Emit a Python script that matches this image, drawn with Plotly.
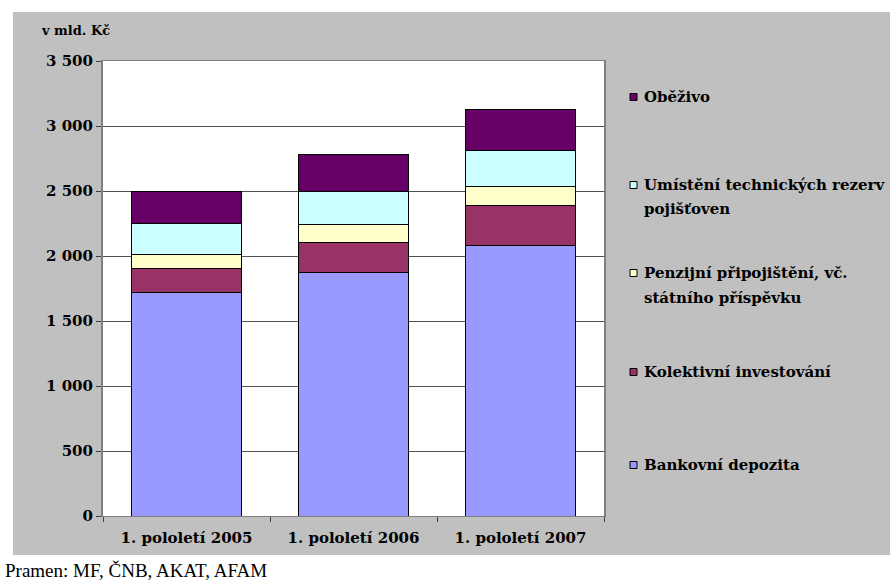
import plotly.graph_objects as go

# Financial assets of households, billions CZK
periods = ["1. pololetí 2005", "1. pololetí 2006", "1. pololetí 2007"]

bankovni_depozita = [1717, 1871, 2083]
kolektivni_investovani = [187, 235, 308]
penzijni_pripojisteni = [105, 136, 141]
umisteni_rezerv = [241, 256, 280]
obezivo = [250, 283, 315]

series_names = [
    "Bankovní depozita",
    "Kolektivní investování",
    "Penzijní připojištění, vč. státního příspěvku",
    "Umístění technických rezerv pojišťoven",
    "Oběživo",
]
# legend label lines for each series (same order as series_names)
legend_lines = [
    ["Bankovní depozita"],
    ["Kolektivní investování"],
    ["Penzijní připojištění, vč.", "státního příspěvku"],
    ["Umístění technických rezerv", "pojišťoven"],
    ["Oběživo"],
]
series_values = [
    bankovni_depozita,
    kolektivni_investovani,
    penzijni_pripojisteni,
    umisteni_rezerv,
    obezivo,
]
colors = ["#9999ff", "#993366", "#ffffcc", "#ccffff", "#660066"]

W, H = 890, 583
L, R, T, B = 103, 286, 61, 67
plot_w = W - L - R
plot_h = H - T - B

def px_x(px):
    return (px - L) / plot_w

def px_y(py):
    return (H - B - py) / plot_h

SERIF = "DejaVu Serif"
GREY = "#c0c0c0"

fig = go.Figure()
for name, vals, col in zip(series_names, series_values, colors):
    fig.add_trace(go.Bar(
        x=periods, y=vals, name=name,
        marker=dict(color=col, line=dict(color="#000000", width=1)),
        width=0.66, showlegend=False,
    ))

shapes = []
# white page margins around the grey chart panel
for x0, x1, y0, y1 in [(0, W, 0, 12), (0, 13, 0, H), (0, W, 555, H)]:
    shapes.append(dict(type="rect", xref="paper", yref="paper",
                       x0=px_x(x0), x1=px_x(x1), y0=px_y(y1), y1=px_y(y0),
                       fillcolor="white", line=dict(width=0), layer="above"))

annotations = [
    dict(text="<b>v mld. Kč</b>", xref="paper", yref="paper",
         x=px_x(39), y=px_y(30), xanchor="left", yanchor="middle",
         showarrow=False, font=dict(family=SERIF, size=13, color="#000")),
    dict(text="Pramen: MF, ČNB, AKAT, AFAM", xref="paper", yref="paper",
         x=px_x(3), y=px_y(570), xanchor="left", yanchor="middle",
         showarrow=False, font=dict(family="Liberation Serif", size=19, color="#000")),
]

# custom legend, top entry first
legend_y = {4: [97], 3: [185, 209], 2: [273, 298], 1: [372], 0: [465]}
for i in range(len(series_names)):
    ys = legend_y[i]
    yc = ys[0]
    shapes.append(dict(type="rect", xref="paper", yref="paper",
                       x0=px_x(630), x1=px_x(637), y0=px_y(yc + 3.5), y1=px_y(yc - 3.5),
                       fillcolor=colors[i], line=dict(color="#000", width=1), layer="above"))
    for line_txt, ly in zip(legend_lines[i], ys):
        annotations.append(dict(
            text="<b>" + line_txt + "</b>", xref="paper", yref="paper",
            x=px_x(642), y=px_y(ly), xanchor="left", yanchor="middle",
            showarrow=False, font=dict(family=SERIF, size=15, color="#000")))

fig.update_layout(
    width=W, height=H,
    margin=dict(l=L, r=R, t=T, b=B),
    barmode="stack",
    paper_bgcolor=GREY,
    plot_bgcolor="white",
    separators=", ",
    shapes=shapes,
    annotations=annotations,
    xaxis=dict(
        showline=True, linecolor="#808080", linewidth=1, mirror=True,
        ticks="outside", tickson="boundaries", ticklen=5, tickcolor="#404040",
        showgrid=False, ticklabelstandoff=8,
        tickfont=dict(family=SERIF, size=15, color="#000", weight="bold"),
    ),
    yaxis=dict(
        range=[0, 3500], dtick=500, tickformat=",d",
        showline=True, linecolor="#808080", linewidth=2, mirror=True,
        ticks="outside", ticklen=5, tickcolor="#404040",
        showgrid=True, gridcolor="#505050", gridwidth=1,
        zeroline=False,
        tickfont=dict(family=SERIF, size=15, color="#000", weight="bold"),
    ),
)

fig.write_html("out.html")
